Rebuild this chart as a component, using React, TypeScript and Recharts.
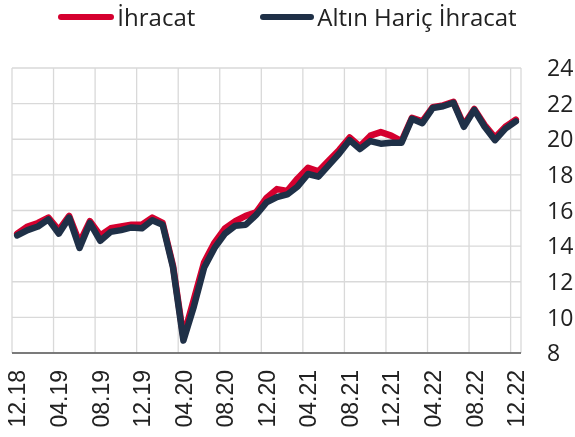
import React from 'react';
import { LineChart, Line, XAxis, YAxis, CartesianGrid, Legend } from 'recharts';

const monthLabels = [
  '12.18', '01.19', '02.19', '03.19', '04.19', '05.19', '06.19', '07.19', '08.19', '09.19', '10.19', '11.19',
  '12.19', '01.20', '02.20', '03.20', '04.20', '05.20', '06.20', '07.20', '08.20', '09.20', '10.20', '11.20',
  '12.20', '01.21', '02.21', '03.21', '04.21', '05.21', '06.21', '07.21', '08.21', '09.21', '10.21', '11.21',
  '12.21', '01.22', '02.22', '03.22', '04.22', '05.22', '06.22', '07.22', '08.22', '09.22', '10.22', '11.22',
  '12.22',
];

const ihracat = [
  14.7, 15.1, 15.3, 15.6, 14.9, 15.7, 14.2, 15.4, 14.6, 15.0, 15.1, 15.2,
  15.2, 15.6, 15.3, 12.9, 8.9, 11.0, 13.1, 14.2, 15.0, 15.4, 15.7, 15.9,
  16.7, 17.2, 17.1, 17.8, 18.4, 18.2, 18.8, 19.4, 20.1, 19.6, 20.2, 20.4,
  20.2, 19.9, 21.2, 21.0, 21.8, 21.9, 22.1, 20.8, 21.7, 20.8, 20.1, 20.7,
  21.1,
];

const altinHaricIhracat = [
  14.6, 14.9, 15.1, 15.5, 14.7, 15.6, 13.9, 15.3, 14.3, 14.8, 14.9, 15.05,
  15.0, 15.45, 15.2, 12.8, 8.7, 10.6, 12.8, 13.9, 14.7, 15.15, 15.2, 15.75,
  16.45, 16.75, 16.9, 17.35, 18.05, 17.9, 18.55, 19.2, 19.95, 19.45, 19.9, 19.75,
  19.8, 19.8, 21.15, 20.9, 21.75, 21.85, 22.05, 20.7, 21.65, 20.7, 19.95, 20.6,
  21.0,
];

const seriesNames = ['İhracat', 'Altın Hariç İhracat'];
const seriesColors = ['#d5002f', '#1f3047'];

const xTickIndex = [0, 4, 8, 12, 16, 20, 24, 28, 32, 36, 40, 44, 48];
const xGridIndex = [-0.5, 3.5, 7.5, 11.5, 15.5, 19.5, 23.5, 27.5, 31.5, 35.5, 39.5, 43.5, 47.5];
const yTicks = [8, 10, 12, 14, 16, 18, 20, 22, 24];

const data = monthLabels.map((label, i) => ({
  idx: i,
  label,
  a: ihracat[i],
  b: altinHaricIhracat[i],
}));

const XTick = (props: any) => {
  const { x, y, payload } = props;
  const label = monthLabels[payload.value] ?? '';
  return (
    <text
      x={x}
      y={y}
      transform={`rotate(-90, ${x}, ${y})`}
      textAnchor="end"
      dy="0.36em"
      fontFamily="'Liberation Sans', Arial, sans-serif"
      fontSize={23}
      fill="#222"
    >
      {label}
    </text>
  );
};

const LegendContent = () => (
  <div
    style={{
      display: 'flex',
      justifyContent: 'center',
      alignItems: 'center',
      gap: 65,
      height: 34,
      fontFamily: "'Open Sans', sans-serif",
      fontSize: 24,
      lineHeight: '34px',
      color: '#222',
      whiteSpace: 'nowrap',
    }}
  >
    {seriesNames.map((name, i) => (
      <div key={name} style={{ display: 'flex', alignItems: 'center' }}>
        <span
          style={{
            display: 'inline-block',
            width: i === 0 ? 56 : 54,
            height: 6,
            borderRadius: 3,
            background: seriesColors[i],
            marginRight: 3,
          }}
        />
        <span>{name}</span>
      </div>
    ))}
  </div>
);

export default function App() {
  return (
    <div style={{ position: 'fixed', left: 0, top: 0, width: 575, height: 437 }}>
      <LineChart width={575} height={437} data={data} margin={{ top: 34, right: 0, bottom: 0, left: 12 }}>
        <CartesianGrid xAxisId="grid" stroke="#d9d9d9" strokeWidth={1.3} />
        <XAxis
          dataKey="idx"
          type="number"
          domain={[-0.5, 48.5]}
          ticks={xTickIndex}
          interval={0}
          tick={<XTick />}
          tickLine={false}
          tickSize={0}
          tickMargin={17}
          axisLine={{ stroke: '#595959', strokeWidth: 1.5 }}
          height={84}
          allowDataOverflow
        />
        <XAxis
          xAxisId="grid"
          dataKey="idx"
          type="number"
          domain={[-0.5, 48.5]}
          ticks={xGridIndex}
          interval={0}
          allowDataOverflow
          hide
        />
        <YAxis
          orientation="right"
          domain={[8, 24]}
          ticks={yTicks}
          interval={0}
          width={54}
          axisLine={false}
          tickLine={false}
          tickSize={0}
          tickMargin={26}
          tick={{ fontFamily: "'Open Sans', sans-serif", fontSize: 23, fill: '#222', textAnchor: 'start' }}
        />
        <Legend
          verticalAlign="top"
          align="center"
          content={<LegendContent />}
          wrapperStyle={{ top: 0, left: 0, width: 575 }}
        />
        <Line
          type="linear"
          dataKey="a"
          name={seriesNames[0]}
          stroke={seriesColors[0]}
          strokeWidth={6.5}
          strokeLinejoin="round"
          strokeLinecap="round"
          dot={false}
          isAnimationActive={false}
        />
        <Line
          type="linear"
          dataKey="b"
          name={seriesNames[1]}
          stroke={seriesColors[1]}
          strokeWidth={6.5}
          strokeLinejoin="round"
          strokeLinecap="round"
          dot={false}
          isAnimationActive={false}
        />
      </LineChart>
    </div>
  );
}
